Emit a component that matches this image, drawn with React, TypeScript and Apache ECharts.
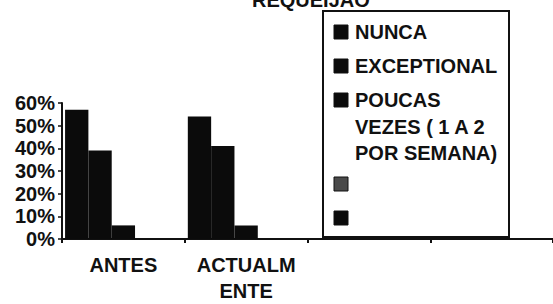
import React, { useEffect, useRef } from "react";
import * as echarts from "echarts";

const title = "REQUEIJÃO";
const categories = ["ANTES", "ACTUALMENTE", "", ""];
const categoryLabels = ["ANTES", "ACTUALM\nENTE", "", ""];
const seriesNames = ["NUNCA", "EXCEPTIONAL", "POUCAS VEZES ( 1 A 2 POR SEMANA)", " ", "  "];
const legendLabels = ["NUNCA", "EXCEPTIONAL", "POUCAS\nVEZES ( 1 A 2\nPOR SEMANA)", "", ""];
const nunca = [57, 54, null, null];
const exceptional = [39, 41, null, null];
const poucasVezes = [6, 6, null, null];
const serie4 = [0, 0, null, null];
const serie5 = [0, 0, null, null];
const seriesValues = [nunca, exceptional, poucasVezes, serie4, serie5];
const seriesColors = ["#0b0b0b", "#0b0b0b", "#0b0b0b", "#4a4a4a", "#0b0b0b"];
const yTicks = [0, 10, 20, 30, 40, 50, 60];

const FONT = "'Liberation Sans', Arial, sans-serif";

export default function App() {
  const ref = useRef<HTMLDivElement>(null);
  useEffect(() => {
    if (!ref.current) return;
    const chart = echarts.init(ref.current, null, { renderer: "svg" });

    // legend drawn as graphic (icon aligned with first text line)
    const legendEls: any[] = [];
    legendEls.push({
      type: "rect",
      shape: { x: 323, y: 11, width: 186, height: 226 },
      style: { fill: "#fff", stroke: "#111", lineWidth: 2 },
      z: 10,
    });
    let center = 32;
    legendLabels.forEach((lab, i) => {
      const lines = lab ? lab.split("\n").length : 1;
      legendEls.push({
        type: "rect",
        shape: { x: 334, y: center - 7, width: 14, height: 14 },
        style: { fill: seriesColors[i], stroke: "#111", lineWidth: 1 },
        z: 11,
      });
      if (lab) {
        legendEls.push({
          type: "text",
          x: 355,
          y: center - 13,
          style: {
            text: lab,
            fill: "#111",
            font: `bold 20px ${FONT}`,
            lineHeight: 26.5,
            verticalAlign: "top",
            align: "left",
          },
          z: 11,
        });
      }
      center += 34 + (lines - 1) * 25;
    });

    chart.setOption({
      animation: false,
      backgroundColor: "#fff",
      title: {
        text: title,
        left: 252,
        top: -10,
        padding: 0,
        textStyle: { fontFamily: FONT, fontWeight: "bold", fontSize: 20, color: "#111", lineHeight: 20 },
      },
      grid: { left: 62, top: 103, width: 496, bottom: 61, containLabel: false },
      xAxis: {
        type: "category",
        data: categories,
        axisLine: { lineStyle: { color: "#111", width: 2 } },
        axisTick: { show: true, length: 4, lineStyle: { color: "#111", width: 2 } },
        axisLabel: {
          interval: 0,
          margin: 13,
          color: "#111",
          fontFamily: FONT,
          fontWeight: "bold",
          fontSize: 20,
          lineHeight: 26,
          formatter: (_v: string, idx: number) => categoryLabels[idx],
        },
        splitLine: { show: false },
      },
      yAxis: {
        type: "value",
        min: yTicks[0],
        max: yTicks[yTicks.length - 1],
        interval: 10,
        axisLine: { show: true, lineStyle: { color: "#111", width: 2 } },
        axisTick: { show: true, length: 4, lineStyle: { color: "#111", width: 1.5 } },
        axisLabel: {
          margin: 7,
          color: "#111",
          fontFamily: FONT,
          fontWeight: "bold",
          fontSize: 20,
          formatter: "{value}%",
        },
        splitLine: { show: false },
      },
      legend: { show: false },
      series: seriesNames.map((name, i) => ({
        name,
        type: "bar",
        data: seriesValues[i],
        barGap: "0%",
        barCategoryGap: "5%",
        itemStyle: { color: seriesColors[i] },
      })),
      graphic: legendEls,
    });
    return () => chart.dispose();
  }, []);
  return (
    <div
      ref={ref}
      style={{ position: "fixed", left: 0, top: 0, width: 553, height: 304, background: "#fff" }}
    />
  );
}
